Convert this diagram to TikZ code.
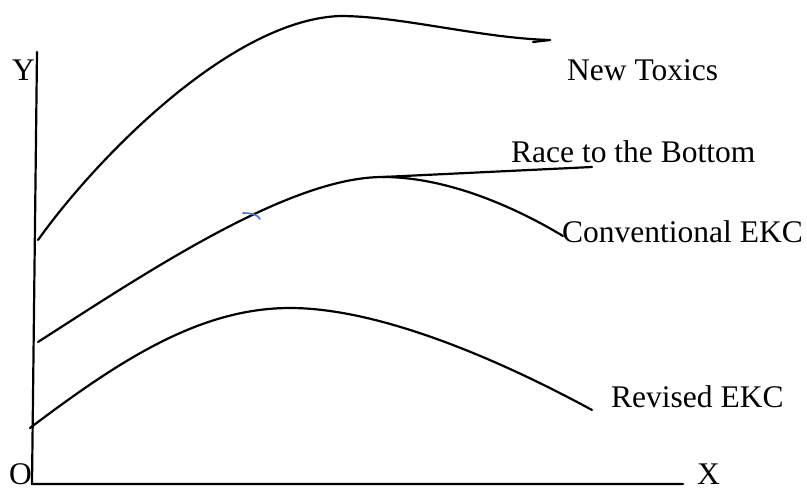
\documentclass[tikz,border=0pt]{standalone}
\usepackage{fontspec}
\setmainfont{Liberation Serif}
\begin{document}
\begin{tikzpicture}[x=1pt,y=-1pt,
  curve/.style={line width=2.2pt,line cap=round,line join=round},
  lbl/.style={anchor=base west,inner sep=0pt,font=\fontsize{31.5}{36}\selectfont}]
\useasboundingbox (0,0) rectangle (807,490);
% axes
\coordinate (ytop) at (37,52);
\coordinate (orig) at (32,484);
\coordinate (xend) at (683,484);
\draw[curve] (ytop) -- (orig) -- (xend);
\node[lbl] (Y) at (12,80) {Y};
\node[lbl] (O) at (9,484) {O};
\node[lbl] (X) at (697,484) {X};
% New Toxics
\draw[curve] (38,240) .. controls (95,160) and (230,20) .. (340,16)
  .. controls (400,16) and (480,38) .. (550,40);
\draw[curve] (533,42) -- (550,40);
\node[lbl] (nt) at (567,80) {New Toxics};
% Conventional EKC
\coordinate (peak) at (383,177);
\draw[curve] (38,342) .. controls (150,270) and (290,177) .. (peak)
  .. controls (450,177) and (520,210) .. (563,236);
\node[lbl] (ce) at (562,242) {Conventional EKC};
% Race to the Bottom
\coordinate (rend) at (592,167);
\draw[curve] (peak) -- (rend);
\node[lbl] (rb) at (511,162) {Race to the Bottom};
% blue tick
\draw[line width=1.6pt,color={rgb,255:red,70;green,120;blue,200},line cap=round] (243,213) .. controls (252,213) and (258,215) .. (260,219);
% Revised EKC
\draw[curve] (30,428) .. controls (120,360) and (200,308) .. (290,308)
  .. controls (380,308) and (500,360) .. (592,410);
\node[lbl] (re) at (611,407) {Revised EKC};
\end{tikzpicture}
\end{document}
